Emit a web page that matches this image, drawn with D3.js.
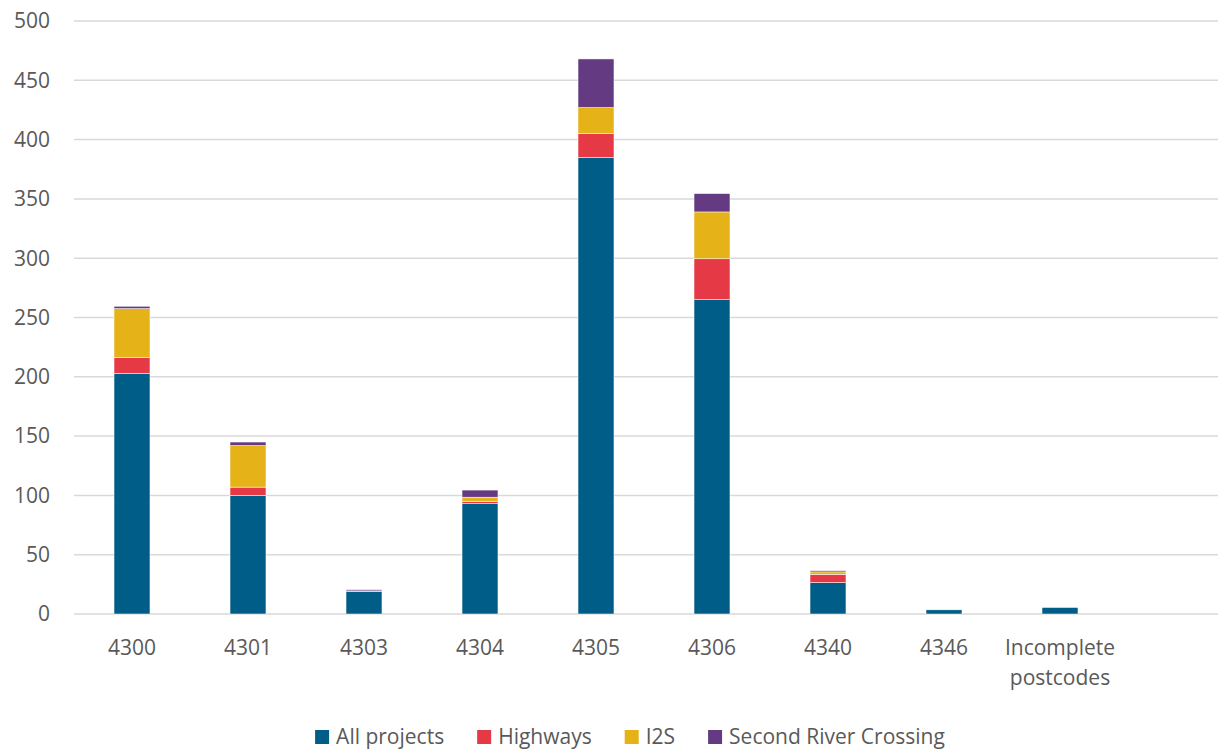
<!DOCTYPE html>
<html>
<head>
<meta charset="utf-8">
<script src="https://cdn.jsdelivr.net/npm/d3@7"></script>
<style>
    body { margin: 0; background: #fff; }
    text { font-family: "Open Sans", "Noto Sans", sans-serif; fill: #595959; }
</style>
</head>
<body>
<svg id="chart" width="1218" height="750"></svg>
<script>
// data
var categories = ["4300", "4301", "4303", "4304", "4305", "4306", "4340", "4346", "Incomplete postcodes"];
var allProjects = [203, 100, 19, 93, 385, 265, 26.5, 3.5, 5.5];
var highways    = [13.5, 7, 0.5, 2, 20, 34.5, 7, 0, 0];
var i2s         = [41, 35, 0, 3.5, 22, 39.5, 2, 0, 0];
var secondRiver = [2, 3, 1, 6, 41, 15.5, 1, 0, 0];
var yTicks = [0, 50, 100, 150, 200, 250, 300, 350, 400, 450, 500];

var keys = ["All projects", "Highways", "I2S", "Second River Crossing"];
var colors = ["#005d87", "#e63946", "#e5b217", "#643b82"];

var data = categories.map(function(c, i) {
    return {
        category: c,
        "All projects": allProjects[i],
        "Highways": highways[i],
        "I2S": i2s[i],
        "Second River Crossing": secondRiver[i]
    };
});

var svg = d3.select("#chart");

var margin = {top: 21, left: 74, bottom: 136, right: 0},
    width = 1218,
    height = 750,
    fontSize = "21px";

var x = d3.scaleBand()
    .domain(categories)
    .range([margin.left, margin.left + 116 * categories.length])
    .paddingInner(0.69)
    .paddingOuter(0.345);

var y = d3.scaleLinear()
    .domain([0, 500])
    .range([height - margin.bottom, margin.top]);

var z = d3.scaleOrdinal().domain(keys).range(colors);

// grid lines
svg.append("g")
    .attr("class", "grid")
    .selectAll("line")
    .data(yTicks)
    .enter().append("line")
    .attr("x1", margin.left)
    .attr("x2", width)
    .attr("y1", d => y(d))
    .attr("y2", d => y(d))
    .attr("stroke", "#d9d9d9")
    .attr("stroke-width", 1.5);

// y labels
svg.append("g")
    .selectAll("text")
    .data(yTicks)
    .enter().append("text")
    .attr("x", 50)
    .attr("y", d => y(d))
    .attr("dy", "0.35em")
    .attr("text-anchor", "end")
    .style("font-size", fontSize)
    .text(d => d);

// stacked bars
var stacked = d3.stack().keys(keys)(data);

svg.append("g")
    .selectAll("g.layer")
    .data(stacked)
    .enter().append("g")
    .attr("class", "layer")
    .attr("fill", d => z(d.key))
    .selectAll("rect")
    .data(d => d.filter(e => e[1] - e[0] > 0))
    .enter().append("rect")
    .attr("x", d => x(d.data.category))
    .attr("width", x.bandwidth())
    .attr("y", d => y(d[1]))
    .attr("height", d => y(d[0]) - y(d[1]))
    .attr("stroke", "#fff")
    .attr("stroke-width", 0.5);

// x labels
var xl = svg.append("g")
    .selectAll("text")
    .data(categories)
    .enter().append("text")
    .attr("x", d => x(d) + x.bandwidth() / 2)
    .attr("y", 655)
    .attr("text-anchor", "middle")
    .style("font-size", fontSize);

xl.each(function(d) {
    var words = d.split(" ");
    var t = d3.select(this);
    words.forEach(function(w, i) {
        t.append("tspan")
            .attr("x", x(d) + x.bandwidth() / 2)
            .attr("dy", i === 0 ? 0 : 30)
            .text(w);
    });
});

// legend
var legend = svg.append("g").attr("class", "legend");
var lx = 0;
keys.forEach(function(k) {
    var g = legend.append("g").attr("transform", `translate(${lx},0)`);
    g.append("rect")
        .attr("x", 0)
        .attr("y", -7)
        .attr("width", 14)
        .attr("height", 14)
        .attr("fill", z(k));
    var t = g.append("text")
        .attr("x", 21)
        .attr("y", 0)
        .attr("dy", "0.35em")
        .style("font-size", fontSize)
        .text(k);
    lx += 21 + t.node().getComputedTextLength() + 33;
});
lx -= 33;
legend.attr("transform", `translate(${630 - lx / 2},737)`);
</script>
</body>
</html>
